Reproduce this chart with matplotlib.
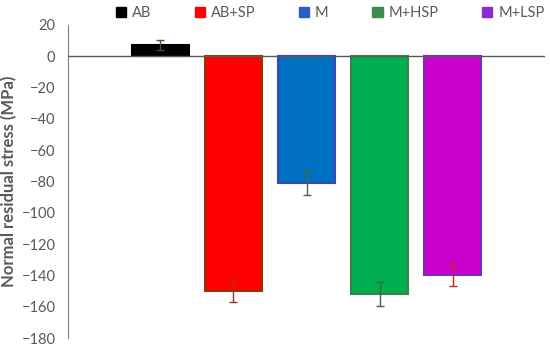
import matplotlib.pyplot as plt
from matplotlib.patches import Patch

plt.rcParams['font.family'] = ['Lato', 'DejaVu Sans']

# data
groups = ['AB', 'AB+SP', 'M', 'M+HSP', 'M+LSP']
stress = [7, -150, -81, -152, -140]
errors = [3, 7, 8, 7.5, 7]

fills = ['#000000', '#FF0000', '#0070C0', '#00B050', '#CC00CC']
edges = ['#000000', '#8B3A00', '#4040C0', '#3F7F4F', '#7030C0']
err_colors = ['#5A4A2A', '#A0302A', '#4A6A3A', '#3A6A3A', '#B03030']
legend_colors = ['#000000', '#FF0000', '#2E5BC8', '#3F8A4F', '#8A2BD0']

fig = plt.figure(figsize=(5.5, 3.49), dpi=100)
ax = fig.add_axes([0.1236, 0.0315, 0.8674, 0.8975])

x = list(range(len(groups)))
for i in x:
    ax.bar(i, stress[i], width=0.78, color=fills[i], edgecolor=edges[i],
           linewidth=1.5, zorder=2)
    ax.errorbar(i, stress[i], yerr=errors[i], color=err_colors[i],
                capsize=3, elinewidth=1, capthick=1, zorder=3)

ax.set_xlim(-1.26, 5.26)
ax.set_ylim(-180, 20)
ax.set_yticks(range(-180, 21, 20))
ax.set_xticks([])
ax.axhline(0, color='#595959', linewidth=1, zorder=4)

for s in ['top', 'right', 'bottom']:
    ax.spines[s].set_visible(False)
ax.spines['left'].set_color('#7F7F7F')
ax.tick_params(axis='y', colors='#595959', labelsize=10.5, length=0, pad=9)

ax.set_ylabel('Normal residual stress (MPa)', color='#595959',
              fontsize=12, fontweight='bold', labelpad=3)

handles = [Patch(facecolor=c, edgecolor=c) for c in legend_colors]
fig.legend(handles, groups, loc='upper center', bbox_to_anchor=(0.6, 1.02),
           ncol=5, frameon=False, fontsize=10.5, handlelength=0.7,
           handleheight=0.7, handletextpad=0.4, columnspacing=3.0,
           labelcolor='#595959')

plt.savefig('out.png', dpi=100)
